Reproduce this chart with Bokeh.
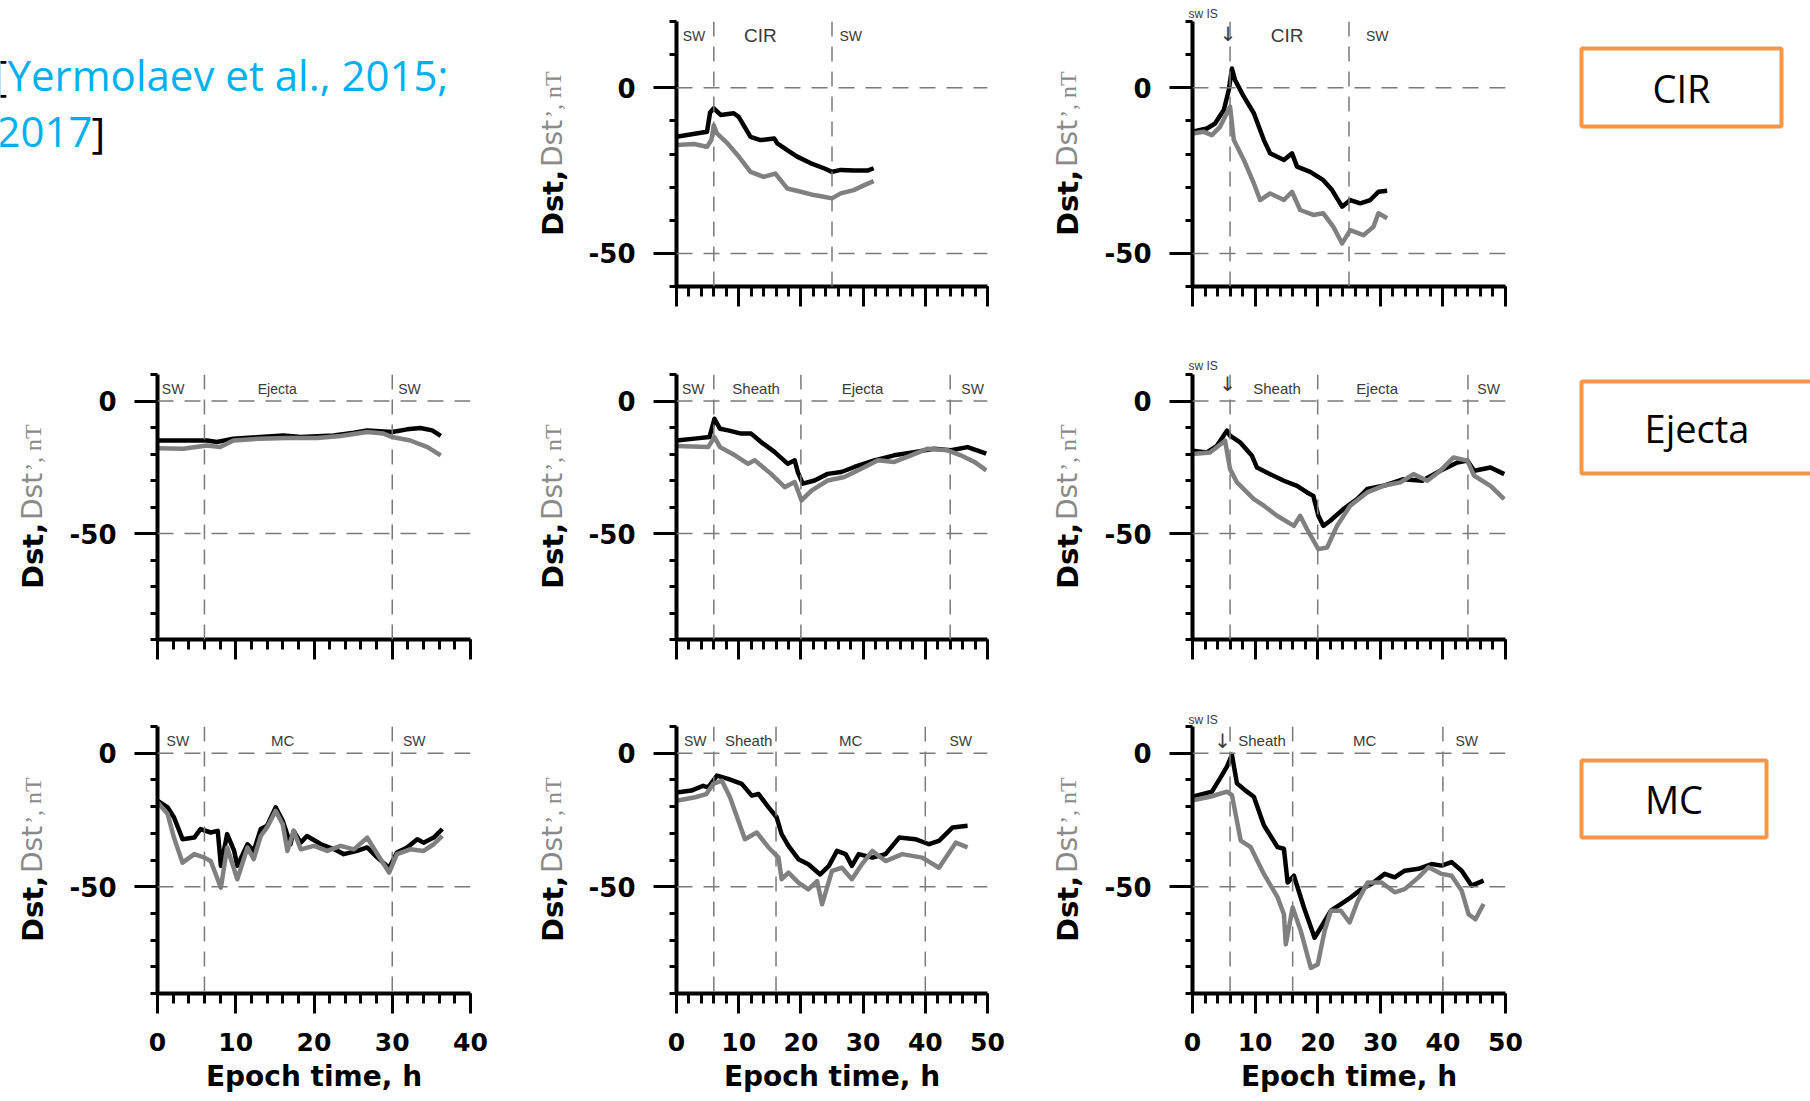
import math
from bokeh.plotting import figure
from bokeh.models import Range1d, FixedTicker, Span, Label
from bokeh.layouts import row, column
from bokeh.embed import file_html
from bokeh.resources import INLINE
from bokeh.core.properties import value

# ---------------- data (epoch time h, nT) ----------------
# Row 1: CIR
CIR_SW_T_DST = [0, 4.9, 5.4, 6.0, 7.1, 9.2, 10.0, 11.9, 13.5, 15.7, 16.2, 17.8, 19.4, 21.6, 23.7, 25.0, 26.4, 28.5, 30.7, 31.7]
CIR_SW_DST = [-14.8, -13.3, -7.5, -6.2, -8.2, -7.7, -8.8, -14.8, -15.8, -15.3, -16.8, -18.8, -20.8, -22.8, -24.3, -25.4, -24.8, -25.0, -25.0, -24.3]
CIR_SW_T_DSTP = [0, 2.8, 4.9, 5.6, 6.0, 6.5, 8.2, 9.8, 11.9, 14.0, 15.9, 17.8, 20.0, 22.1, 23.7, 25.0, 26.4, 28.5, 30.2, 31.7]
CIR_SW_DSTP = [-17.3, -17.0, -17.8, -15.8, -11.3, -13.8, -16.8, -20.3, -25.4, -26.9, -25.9, -30.4, -31.4, -32.4, -32.9, -33.4, -31.9, -30.9, -29.4, -28.2]

CIR_IS_T_DST = [0, 2.3, 3.6, 5.0, 5.8, 6.3, 6.8, 8.2, 9.8, 11.4, 12.4, 14.6, 15.9, 16.7, 18.8, 20.9, 22.3, 23.9, 25.2, 26.8, 28.4, 29.7, 31.1]
CIR_IS_DST = [-13.3, -12.3, -10.8, -6.7, -0.7, 5.8, 2.3, -2.7, -7.7, -15.8, -19.8, -21.8, -19.8, -23.8, -25.4, -27.9, -30.9, -35.9, -33.9, -34.9, -33.9, -31.4, -31.1]
CIR_IS_T_DSTP = [0, 1.8, 3.1, 4.4, 6.0, 6.6, 8.2, 9.8, 10.8, 12.4, 14.6, 15.9, 17.2, 19.3, 20.9, 22.5, 23.9, 25.2, 27.3, 28.9, 29.7, 31.1]
CIR_IS_DSTP = [-13.8, -13.3, -14.3, -11.8, -5.7, -15.8, -21.8, -28.9, -33.9, -31.9, -33.9, -31.4, -36.9, -38.4, -37.9, -42.0, -47.0, -43.0, -44.5, -42.0, -37.9, -39.4]

# Row 2: Ejecta
EJ_SW_T_DST = [0, 3.3, 6.3, 7.6, 9.7, 13.1, 16.1, 18.3, 22.5, 25.1, 26.8, 30.0, 31.9, 33.6, 35.1, 36.2]
EJ_SW_DST = [-14.9, -14.9, -14.9, -15.5, -14.2, -13.6, -13.0, -13.6, -13.0, -12.0, -11.1, -11.7, -10.7, -10.2, -11.1, -13.2]
EJ_SW_T_DSTP = [0, 3.3, 6.3, 8.0, 9.7, 13.1, 16.5, 20.4, 23.4, 26.8, 28.9, 30.0, 32.3, 34.5, 36.2]
EJ_SW_DSTP = [-17.8, -18.0, -16.8, -17.4, -14.9, -14.2, -14.0, -14.0, -13.2, -11.7, -12.3, -13.6, -14.9, -17.4, -20.5]

EJ_SH_T_DST = [0, 2.9, 5.3, 6.1, 7.0, 8.3, 10.4, 12.0, 13.6, 15.8, 17.9, 19.0, 19.5, 20.3, 22.2, 24.3, 26.5, 28.6, 31.8, 35.0, 38.2, 41.4, 44.1, 46.8, 49.8]
EJ_SH_DST = [-14.9, -14.2, -13.6, -6.7, -10.5, -11.1, -12.3, -12.3, -15.5, -19.3, -23.7, -22.4, -26.8, -31.2, -30.0, -27.5, -26.8, -24.9, -22.4, -20.5, -19.3, -18.0, -18.6, -17.4, -19.9]
EJ_SH_T_DSTP = [0, 5.1, 6.1, 7.0, 9.4, 11.5, 12.6, 15.2, 17.4, 19.0, 20.1, 21.7, 24.3, 27.0, 29.7, 32.4, 35.0, 37.7, 40.4, 43.6, 45.7, 47.9, 49.8]
EJ_SH_DSTP = [-17.0, -17.4, -13.6, -17.4, -20.5, -23.7, -22.4, -27.5, -32.5, -30.6, -37.5, -33.8, -30.0, -28.7, -25.6, -22.4, -23.0, -20.5, -18.0, -18.6, -20.5, -23.0, -26.2]

EJ_IS_T_DST = [0, 2.3, 3.9, 5.5, 6.0, 7.6, 9.5, 10.3, 12.4, 14.6, 16.7, 18.3, 19.3, 20.1, 20.9, 22.0, 24.1, 26.3, 27.9, 30.5, 33.7, 36.7, 39.6, 42.3, 43.9, 45.0, 47.6, 49.8]
EJ_IS_DST = [-18.8, -19.4, -16.9, -11.2, -13.1, -15.6, -20.7, -25.1, -27.6, -30.1, -32.0, -34.5, -35.8, -43.3, -47.1, -45.2, -40.8, -37.0, -33.2, -32.0, -29.5, -30.1, -26.3, -23.2, -22.5, -26.3, -25.1, -27.6]
EJ_IS_T_DSTP = [0, 2.8, 5.2, 6.0, 7.1, 9.8, 11.4, 13.5, 16.2, 17.2, 18.3, 20.1, 21.5, 23.1, 25.2, 27.9, 30.5, 33.2, 35.3, 37.5, 39.6, 41.7, 43.9, 45.0, 47.6, 49.8]
EJ_IS_DSTP = [-20.0, -19.4, -15.0, -25.7, -30.7, -37.0, -39.5, -43.3, -47.1, -43.3, -48.4, -55.9, -55.3, -47.1, -39.5, -34.5, -32.0, -30.7, -27.6, -30.1, -26.3, -21.3, -22.5, -28.2, -32.0, -37.0]

# Row 3: MC
MC_SW_T_DST = [0, 1.3, 2.1, 3.2, 4.7, 5.5, 6.8, 7.7, 8.1, 8.9, 9.8, 10.2, 11.5, 12.3, 13.2, 14.0, 15.1, 16.0, 17.0, 17.4, 18.3, 19.1, 20.9, 22.6, 23.8, 25.5, 26.8, 28.1, 29.6, 30.6, 31.9, 33.2, 34.0, 35.3, 36.4]
MC_SW_DST = [-17.8, -20.3, -24.0, -32.2, -31.6, -28.4, -29.7, -29.1, -42.2, -30.3, -36.6, -42.2, -34.1, -36.6, -28.4, -27.2, -20.3, -25.3, -34.1, -29.1, -33.5, -31.0, -34.1, -36.0, -37.8, -36.6, -35.3, -39.1, -42.9, -37.2, -35.3, -32.2, -33.5, -31.6, -28.4]
MC_SW_T_DSTP = [0, 1.3, 2.1, 3.2, 4.7, 6.0, 6.8, 8.1, 8.9, 10.2, 11.5, 12.3, 13.2, 14.0, 15.1, 16.0, 16.6, 17.4, 18.3, 20.0, 21.7, 23.4, 25.1, 26.8, 28.1, 29.6, 30.6, 32.3, 34.0, 35.3, 36.4]
MC_SW_DSTP = [-18.4, -22.8, -31.6, -41.0, -37.8, -39.1, -40.4, -50.4, -35.3, -47.2, -35.3, -39.7, -31.0, -27.8, -21.6, -26.6, -36.6, -29.1, -36.0, -34.7, -36.6, -34.7, -36.0, -31.6, -37.8, -44.7, -37.8, -36.0, -36.6, -34.1, -31.0]

MC_SH_T_DST = [0, 2.4, 4.3, 5.1, 6.5, 8.3, 10.5, 12.1, 13.2, 14.8, 16.1, 16.9, 18.0, 19.6, 21.2, 23.1, 24.5, 25.8, 27.2, 28.2, 29.3, 31.5, 33.6, 35.8, 38.4, 40.6, 42.2, 44.4, 46.8]
MC_SH_DST = [-14.7, -14.0, -12.2, -12.8, -8.4, -9.6, -11.5, -15.9, -15.3, -20.3, -24.0, -30.3, -34.7, -39.7, -41.6, -45.4, -42.2, -36.6, -37.8, -42.2, -37.8, -39.1, -37.8, -31.6, -32.2, -34.1, -32.8, -27.8, -27.2]
MC_SH_T_DSTP = [0, 3.0, 4.8, 5.9, 7.3, 8.6, 11.0, 12.9, 14.8, 16.4, 16.9, 18.0, 19.6, 21.2, 22.6, 23.4, 25.0, 26.6, 28.2, 29.8, 31.5, 33.6, 36.3, 39.5, 42.2, 44.9, 46.8]
MC_SH_DSTP = [-17.8, -16.5, -15.3, -11.5, -10.3, -16.5, -32.2, -29.7, -35.3, -39.1, -47.2, -44.7, -48.5, -51.0, -47.9, -56.6, -44.1, -42.9, -47.2, -41.6, -36.6, -40.4, -37.8, -39.1, -42.9, -33.5, -35.3]

MC_IS_T_DST = [0, 3.1, 4.4, 5.5, 6.3, 7.1, 8.7, 9.8, 11.4, 13.6, 14.6, 15.2, 16.2, 17.8, 19.5, 20.5, 22.1, 23.7, 25.3, 27.0, 28.6, 30.7, 32.3, 33.9, 36.1, 38.2, 39.8, 41.4, 43.0, 44.6, 46.5]
MC_IS_DST = [-16.3, -14.4, -9.4, -5.0, -0.6, -11.3, -14.4, -16.3, -27.0, -35.2, -35.8, -48.4, -45.9, -57.8, -69.1, -65.3, -59.0, -56.5, -54.0, -50.9, -49.0, -45.2, -46.5, -44.0, -43.3, -41.5, -42.1, -40.8, -44.0, -49.6, -47.7]
MC_IS_T_DSTP = [0, 2.8, 5.5, 6.3, 7.7, 9.3, 11.4, 13.6, 14.6, 14.9, 16.0, 17.3, 18.9, 20.0, 21.1, 22.1, 23.7, 25.1, 26.4, 28.0, 30.2, 32.3, 33.9, 36.1, 37.7, 39.8, 41.4, 43.0, 44.1, 45.2, 46.5]
MC_IS_DSTP = [-17.6, -16.3, -14.4, -15.7, -32.7, -35.2, -45.2, -54.0, -60.3, -71.6, -57.8, -66.6, -80.4, -79.1, -66.6, -59.0, -59.0, -63.4, -55.3, -48.4, -48.4, -52.1, -50.9, -46.5, -42.7, -45.2, -45.9, -51.5, -60.3, -62.2, -56.5]

# region boundaries (h) and region labels (text, centre h, font px)
CIR_SW_BOUNDS = [6, 25]
CIR_SW_LABELS = [("SW", 2.8, 14), ("CIR", 13.5, 19), ("SW", 28.0, 14)]
CIR_IS_BOUNDS = [6, 25]
CIR_IS_LABELS = [("CIR", 15.1, 19), ("SW", 29.5, 14)]
EJ_SW_BOUNDS = [6, 30]
EJ_SW_LABELS = [("SW", 2.0, 14), ("Ejecta", 15.3, 14), ("SW", 32.2, 14)]
EJ_SH_BOUNDS = [6, 20, 44]
EJ_SH_LABELS = [("SW", 2.7, 14), ("Sheath", 12.8, 15), ("Ejecta", 29.9, 15), ("SW", 47.6, 14)]
EJ_IS_BOUNDS = [6, 20, 44]
EJ_IS_LABELS = [("Sheath", 13.5, 15), ("Ejecta", 29.5, 15), ("SW", 47.3, 14)]
MC_SW_BOUNDS = [6, 30]
MC_SW_LABELS = [("SW", 2.6, 14), ("MC", 16.0, 15), ("SW", 32.8, 14)]
MC_SH_BOUNDS = [6, 16, 40]
MC_SH_LABELS = [("SW", 3.0, 14), ("Sheath", 11.6, 15), ("MC", 28.0, 15), ("SW", 45.7, 14)]
MC_IS_BOUNDS = [6, 16, 40]
MC_IS_LABELS = [("Sheath", 11.1, 15), ("MC", 27.5, 15), ("SW", 43.8, 14)]

ROW_TITLES = ["CIR", "Ejecta", "MC"]
X_TICKS_40 = [0, 10, 20, 30, 40]
X_TICKS_50 = [0, 10, 20, 30, 40, 50]
Y_MAJOR = [-50, 0]
Y_LABEL_PARTS = ["Dst,", "Dst", "\u2019, nT"]
CITATION = ["[", "Yermolaev et al., 2015;", "2017", "]"]

# ---------------- style / layout ----------------
SANS = "Liberation Sans"
BOLDSANS = "DejaVu Sans"
SERIF = "Liberation Serif"
BLACK = "#000000"
GRAY = "#808080"
GRAY_TXT = "#8a8a8a"
DASH = "#7a7a7a"
REGION_TXT = "#3a3a3a"
ORANGE = "#F79646"
BLUE = "#00B0F0"

STRIP = 64                    # width of the y-label strip left of each panel
FW = [313, 311, 313]          # frame widths per column
LEFT = [93, 92, 93]           # left border of panel figure (after strip)
RIGHT = [50, 48, 55]
FH = [265, 265, 267]          # frame heights per row
TOP = [21, 44, 36]
BOTTOM = [44, 51, 108]


def row_h(rw):
    return TOP[rw] + FH[rw] + BOTTOM[rw]


def bare(w, h, x_range, y_range, top=0, bottom=0):
    p = figure(width=w, height=h, x_range=x_range, y_range=y_range,
               output_backend="svg", toolbar_location=None,
               min_border_left=0, min_border_right=0,
               min_border_top=top, min_border_bottom=bottom,
               x_axis_location=None, y_axis_location=None)
    p.outline_line_color = None
    p.grid.visible = False
    return p


def ylabel_strip(rw):
    # frame aligned with the neighbouring panel frame; 1 data unit = 1 px, 0 = frame centre
    p = bare(STRIP, row_h(rw), Range1d(0, STRIP), Range1d(-FH[rw] / 2, FH[rw] / 2),
             top=TOP[rw], bottom=BOTTOM[rw])
    xc = 32
    offs = [-82, -13, 36]
    cols = [BLACK, GRAY_TXT, GRAY_TXT]
    fonts = [BOLDSANS, BOLDSANS, SERIF]
    styles = ["bold", "normal", "normal"]
    sizes = ["29px", "28px", "24px"]
    for txt, off, c, f, s, fs in zip(Y_LABEL_PARTS, offs, cols, fonts, styles, sizes):
        p.text(x=[xc], y=[off], text=[txt], angle=math.pi / 2,
               text_align="left", text_baseline="middle", text_color=c,
               text_font=value(f), text_font_style=s, text_font_size=value(fs))
    return p


def panel(col, rw, xmax, ymin, ymax, top_title=None):
    fw, fh = FW[col], FH[rw]
    p = figure(width=LEFT[col] + fw + RIGHT[col], height=row_h(rw),
               x_range=Range1d(0, xmax), y_range=Range1d(ymin, ymax),
               output_backend="svg", toolbar_location=None,
               min_border_left=LEFT[col], min_border_right=RIGHT[col],
               min_border_top=TOP[rw], min_border_bottom=BOTTOM[rw])
    p.outline_line_color = None
    p.grid.visible = False

    if top_title is not None:
        txt, offset, standoff = top_title
        p.title.text = txt
        p.title.align = "left"
        p.title.offset = offset
        p.title.standoff = standoff
        p.title.text_font = SANS
        p.title.text_font_style = "normal"
        p.title.text_font_size = "12px"
        p.title.text_color = REGION_TXT

    xa = p.xaxis[0]
    xa.ticker = FixedTicker(ticks=X_TICKS_40 if xmax == 40 else X_TICKS_50,
                            minor_ticks=list(range(0, xmax + 1, 2)))
    xa.axis_line_width = 4
    xa.major_tick_out = 20
    xa.major_tick_in = 0
    xa.minor_tick_out = 10
    xa.minor_tick_in = 0
    xa.major_tick_line_width = 3
    xa.minor_tick_line_width = 3
    if rw == 2:
        xa.major_label_text_font = BOLDSANS
        xa.major_label_text_font_style = "bold"
        xa.major_label_text_font_size = "25px"
        xa.major_label_text_color = BLACK
        xa.major_label_standoff = 19
        xa.axis_label = "Epoch time, h"
        xa.axis_label_text_font = BOLDSANS
        xa.axis_label_text_font_style = "bold"
        xa.axis_label_text_font_size = "28px"
        xa.axis_label_text_color = BLACK
        xa.axis_label_standoff = 6
    else:
        xa.major_label_text_font_size = "1px"
        xa.major_label_text_alpha = 0
        xa.major_label_standoff = 0

    ya = p.yaxis[0]
    ya.ticker = FixedTicker(ticks=Y_MAJOR, minor_ticks=list(range(-90, 21, 10)))
    ya.axis_line_width = 4
    ya.major_tick_out = 23
    ya.major_tick_in = 0
    ya.minor_tick_out = 7
    ya.minor_tick_in = 0
    ya.major_tick_line_width = 3
    ya.minor_tick_line_width = 3
    ya.major_label_text_font = BOLDSANS
    ya.major_label_text_font_style = "bold"
    ya.major_label_text_font_size = "26px"
    ya.major_label_text_color = BLACK
    ya.major_label_standoff = 18
    ya.major_label_overrides = {0: "0", -50: "-50"}

    for loc in Y_MAJOR:
        p.add_layout(Span(location=loc, dimension="width", line_color=DASH,
                          line_width=1.5, line_dash="16 11"))
    ppy = fh / (ymax - ymin)
    return p, ppy


def fill_panel(p, ppy, ymax, t1, d1, t2, d2, bounds, labels, arrow=None):
    for b in bounds:
        p.add_layout(Span(location=b, dimension="height", line_color=DASH,
                          line_width=1.5, line_dash="15 10"))
    p.line(t1, d1, line_color=BLACK, line_width=4.5, line_join="round")
    p.line(t2, d2, line_color=GRAY, line_width=4.5, line_join="round")
    ylab = ymax - 14 / ppy
    for txt, x, fs in labels:
        p.add_layout(Label(x=x, y=ylab, text=txt, text_align="center", text_baseline="middle",
                           text_color=REGION_TXT, text_font=SANS, text_font_size=f"{fs}px"))
    if arrow is not None:
        x_arrow, dy_arrow = arrow
        p.add_layout(Label(x=x_arrow, y=ymax - dy_arrow / ppy, text="\u2193", text_align="center",
                           text_baseline="middle", text_color=REGION_TXT, text_font="DejaVu Sans",
                           text_font_size="20px"))


# ---------- row 1 ----------
w00 = STRIP + LEFT[0] + FW[0] + RIGHT[0]
# frame aligned with panel frames of row 1; data units = page pixels
f00 = bare(w00, row_h(0), Range1d(0, w00), Range1d(TOP[0] + FH[0], TOP[0]),
           top=TOP[0], bottom=BOTTOM[0])
cit_x = [-7, 7, -4, 91]
cit_y = [74, 74, 131, 131]
cit_c = [BLACK, BLUE, BLUE, BLACK]
f00.text(x=cit_x, y=cit_y, text=CITATION, text_color=cit_c, text_font=value("Open Sans"),
         text_font_size=value("42px"), text_baseline="middle", text_align="left")

f01, ppy = panel(1, 0, 50, -60, 20)
fill_panel(f01, ppy, 20, CIR_SW_T_DST, CIR_SW_DST, CIR_SW_T_DSTP, CIR_SW_DSTP,
           CIR_SW_BOUNDS, CIR_SW_LABELS)
f02, ppy = panel(2, 0, 50, -60, 20, top_title=("sw IS", -4, 1))
fill_panel(f02, ppy, 20, CIR_IS_T_DST, CIR_IS_DST, CIR_IS_T_DSTP, CIR_IS_DSTP,
           CIR_IS_BOUNDS, CIR_IS_LABELS, arrow=(5.7, 12))

# ---------- row 2 ----------
f10, ppy = panel(0, 1, 40, -90, 10)
fill_panel(f10, ppy, 10, EJ_SW_T_DST, EJ_SW_DST, EJ_SW_T_DSTP, EJ_SW_DSTP,
           EJ_SW_BOUNDS, EJ_SW_LABELS)
f11, ppy = panel(1, 1, 50, -90, 10)
fill_panel(f11, ppy, 10, EJ_SH_T_DST, EJ_SH_DST, EJ_SH_T_DSTP, EJ_SH_DSTP,
           EJ_SH_BOUNDS, EJ_SH_LABELS)
f12, ppy = panel(2, 1, 50, -90, 10, top_title=("sw IS", -4, 3))
fill_panel(f12, ppy, 10, EJ_IS_T_DST, EJ_IS_DST, EJ_IS_T_DSTP, EJ_IS_DSTP,
           EJ_IS_BOUNDS, EJ_IS_LABELS, arrow=(5.6, 9))

# ---------- row 3 ----------
f20, ppy = panel(0, 2, 40, -90, 10)
fill_panel(f20, ppy, 10, MC_SW_T_DST, MC_SW_DST, MC_SW_T_DSTP, MC_SW_DSTP,
           MC_SW_BOUNDS, MC_SW_LABELS)
f21, ppy = panel(1, 2, 50, -90, 10)
fill_panel(f21, ppy, 10, MC_SH_T_DST, MC_SH_DST, MC_SH_T_DSTP, MC_SH_DSTP,
           MC_SH_BOUNDS, MC_SH_LABELS)
f22, ppy = panel(2, 2, 50, -90, 10, top_title=("sw IS", -4, 0))
fill_panel(f22, ppy, 10, MC_IS_T_DST, MC_IS_DST, MC_IS_T_DSTP, MC_IS_DSTP,
           MC_IS_BOUNDS, MC_IS_LABELS, arrow=(4.8, 14))

# ---------- right column of category boxes ----------
total_h = row_h(0) + row_h(1) + row_h(2)
fr = bare(250, total_h, Range1d(0, 250), Range1d(total_h, 0))
BOX_L = [21, 21, 21]
BOX_R = [221, 256, 206]
BOX_T = [48, 381, 760]
BOX_B = [126, 473, 837]
fr.quad(left=BOX_L, right=BOX_R, top=BOX_T, bottom=BOX_B, fill_color="white",
        line_color=ORANGE, line_width=4)
fr.text(x=[(l + r) / 2 for l, r in zip(BOX_L, [221, 252, 206])],
        y=[(t + b) / 2 for t, b in zip(BOX_T, BOX_B)], text=ROW_TITLES,
        text_color=BLACK, text_font=value("Open Sans"), text_font_size=value("38px"),
        text_align="center", text_baseline="middle")

grid = column(
    row(f00, ylabel_strip(0), f01, ylabel_strip(0), f02),
    row(ylabel_strip(1), f10, ylabel_strip(1), f11, ylabel_strip(1), f12),
    row(ylabel_strip(2), f20, ylabel_strip(2), f21, ylabel_strip(2), f22),
)
layout = row(grid, fr)

open("out.html", "w").write(file_html(layout, INLINE))
